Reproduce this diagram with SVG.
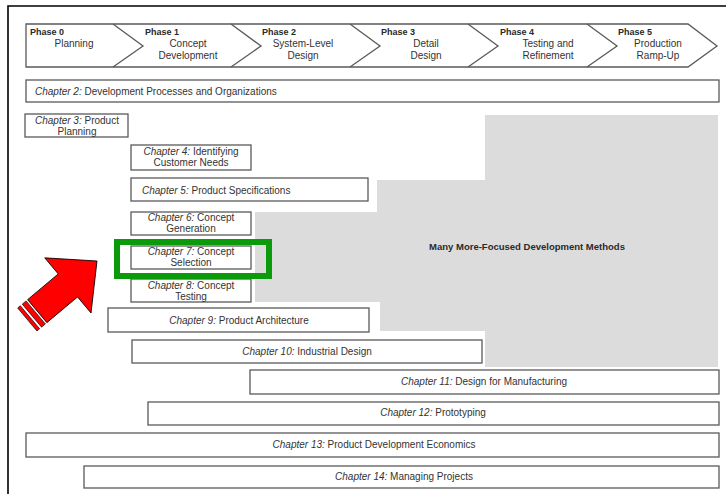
<svg xmlns="http://www.w3.org/2000/svg" width="726" height="494" viewBox="0 0 726 494">
<style>
text{font-family:"Liberation Sans",Arial,sans-serif;fill:#2a2a2a}
.ph{font-size:9px;font-weight:bold}
.pn{font-size:10px;text-anchor:middle;fill:#333}
.box{fill:#fff;stroke:#5a5a5a;stroke-width:1.3}
.ch{font-size:10px;fill:#333}
.c{text-anchor:middle}
.i{font-style:italic}
.chev{fill:none;stroke:#5a5a5a;stroke-width:1.3}
</style>
<rect x="0" y="0" width="726" height="494" fill="#fff"/>
<path d="M8,494 V6 H726" fill="none" stroke="#000" stroke-width="1.6"/>

<g id="methods-area">
<polygon points="485,115 718,115 718,367 485,367 485,331 380,331 380,302 255,302 255,212 377,212 377,180 485,180" fill="#dcdcdc"/>
<text x="527" y="250" font-size="9.5" font-weight="bold" text-anchor="middle" fill="#222">Many More-Focused Development Methods</text>
</g>

<g id="phases">
<path class="chev" d="M26,24 H688 L717,46 L688,67 H26 Z"/>
<polyline class="chev" points="113,24 143,46 113,67"/>
<polyline class="chev" points="231,24 261,46 231,67"/>
<polyline class="chev" points="350,24 380,46 350,67"/>
<polyline class="chev" points="468,24 498,46 468,67"/>
<polyline class="chev" points="587,24 617,46 587,67"/>
<text class="ph" x="30" y="35">Phase 0</text>
<text class="ph" x="145" y="35">Phase 1</text>
<text class="ph" x="262" y="35">Phase 2</text>
<text class="ph" x="381" y="35">Phase 3</text>
<text class="ph" x="500" y="35">Phase 4</text>
<text class="ph" x="618" y="35">Phase 5</text>
<text class="pn" x="74" y="47">Planning</text>
<text class="pn" x="188" y="47">Concept</text>
<text class="pn" x="188" y="59">Development</text>
<text class="pn" x="303" y="47">System-Level</text>
<text class="pn" x="303" y="59">Design</text>
<text class="pn" x="426" y="47">Detail</text>
<text class="pn" x="426" y="59">Design</text>
<text class="pn" x="548" y="47">Testing and</text>
<text class="pn" x="548" y="59">Refinement</text>
<text class="pn" x="658" y="47">Production</text>
<text class="pn" x="658" y="59">Ramp-Up</text>
</g>

<g id="ch2"><rect class="box" x="26" y="80" width="693" height="22"/>
<text class="ch" x="35" y="95"><tspan class="i">Chapter 2:</tspan> Development Processes and Organizations</text></g>

<g id="ch3"><rect class="box" x="25" y="114" width="103" height="23"/>
<text class="ch c" x="77" y="124"><tspan class="i">Chapter 3:</tspan> Product</text>
<text class="ch c" x="77" y="135">Planning</text></g>

<g id="ch4"><rect class="box" x="131" y="145" width="120" height="25"/>
<text class="ch c" x="191" y="155"><tspan class="i">Chapter 4:</tspan> Identifying</text>
<text class="ch c" x="191" y="166">Customer Needs</text></g>

<g id="ch5"><rect class="box" x="131" y="178" width="237" height="23"/>
<text class="ch" x="142" y="194"><tspan class="i">Chapter 5:</tspan> Product Specifications</text></g>

<g id="ch6"><rect class="box" x="131" y="212" width="120" height="23"/>
<text class="ch c" x="191" y="221"><tspan class="i">Chapter 6:</tspan> Concept</text>
<text class="ch c" x="191" y="232">Generation</text></g>

<g id="ch7"><rect class="box" x="131" y="246" width="120" height="23"/>
<text class="ch c" x="191" y="255"><tspan class="i">Chapter 7:</tspan> Concept</text>
<text class="ch c" x="191" y="266">Selection</text></g>

<g id="ch8"><rect class="box" x="131" y="279" width="120" height="23"/>
<text class="ch c" x="191" y="289"><tspan class="i">Chapter 8:</tspan> Concept</text>
<text class="ch c" x="191" y="300">Testing</text></g>

<g id="highlight"><rect x="117" y="242" width="152" height="34" fill="none" stroke="#0a9a0a" stroke-width="6"/></g>

<g id="ch9"><rect class="box" x="108" y="308" width="261" height="24"/>
<text class="ch c" x="239" y="324"><tspan class="i">Chapter 9:</tspan> Product Architecture</text></g>

<g id="ch10"><rect class="box" x="132" y="340" width="350" height="23"/>
<text class="ch c" x="307" y="355"><tspan class="i">Chapter 10:</tspan> Industrial Design</text></g>

<g id="ch11"><rect class="box" x="250" y="370" width="469" height="24"/>
<text class="ch c" x="484" y="385"><tspan class="i">Chapter 11:</tspan> Design for Manufacturing</text></g>

<g id="ch12"><rect class="box" x="148" y="402" width="571" height="23"/>
<text class="ch c" x="433" y="416"><tspan class="i">Chapter 12:</tspan> Prototyping</text></g>

<g id="ch13"><rect class="box" x="26" y="433" width="693" height="24"/>
<text class="ch c" x="374" y="448"><tspan class="i">Chapter 13:</tspan> Product Development Economics</text></g>

<g id="ch14"><rect class="box" x="84" y="466" width="635" height="22"/>
<text class="ch c" x="404" y="480"><tspan class="i">Chapter 14:</tspan> Managing Projects</text></g>

<g id="red-arrow" transform="translate(97,261) rotate(-40)">
<polygon points="0,0 -38,-36 -38,-15 -78,-15 -78,15 -38,15 -38,36" fill="#ff0000" stroke="#000" stroke-width="0.8" stroke-linejoin="miter"/>
<rect x="-85" y="-15" width="5" height="30" fill="#ff0000" stroke="#000" stroke-width="0.6"/>
<rect x="-91" y="-15" width="3.5" height="30" fill="#ff0000" stroke="#000" stroke-width="0.6"/>
</g>
</svg>
